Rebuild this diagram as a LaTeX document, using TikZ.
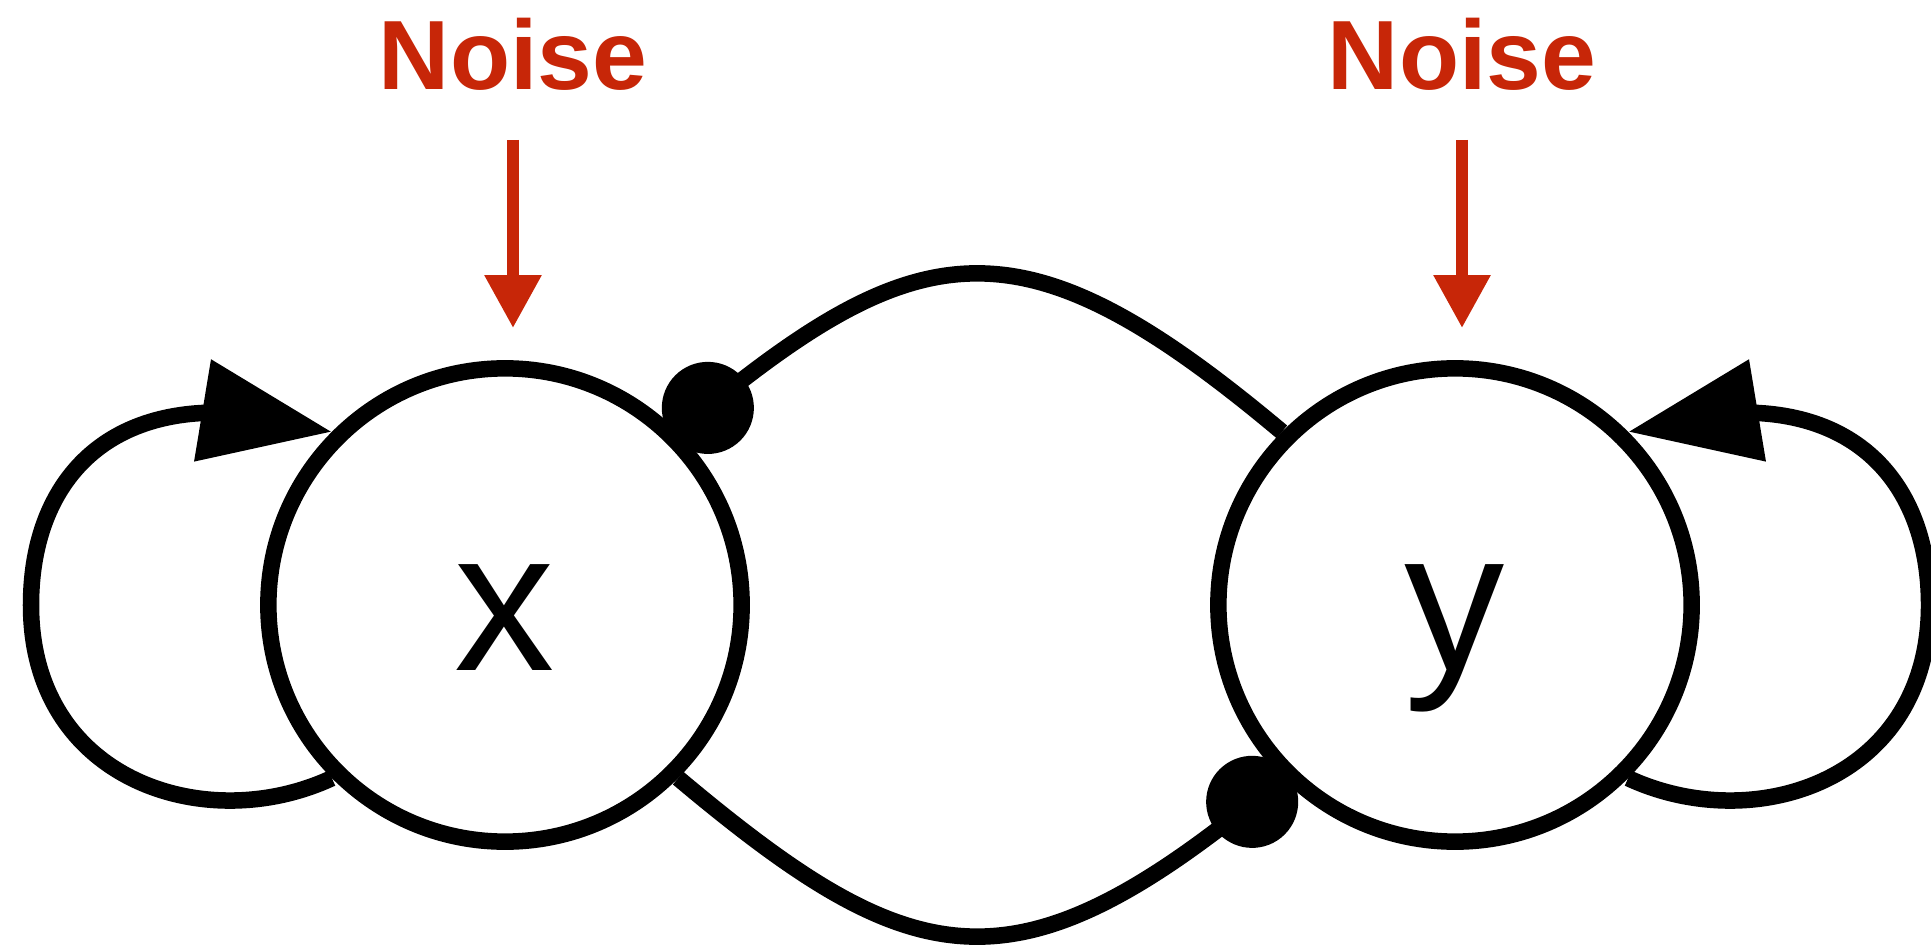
\documentclass[tikz,border=0pt]{standalone}
\usepackage{fontspec}
\setmainfont{Liberation Sans}
\usetikzlibrary{arrows.meta,bending}
\definecolor{noisered}{RGB}{199,38,8}
\begin{document}
\begin{tikzpicture}[x=0.01cm,y=0.01cm,
  state/.style={circle,draw,line width=0.165cm,minimum size=4.73cm,inner sep=0pt,outer sep=0.0825cm,
    font=\fontsize{57}{57}\selectfont,text height=1.3cm,text depth=0pt},
  conn/.style={line width=0.165cm,black},
  loopedge/.style={conn,-{Triangle[flex,length=1.31cm,width=0.99cm]}},
  dotedge/.style={conn,-{Circle[length=0.92cm]},shorten >=-0.08cm},
  noiselbl/.style={text=noisered,font=\bfseries\fontsize{28}{28}\selectfont,inner sep=0pt,outer sep=0pt,anchor=base},
  noisearr/.style={draw=noisered,line width=0.12cm,-{Triangle[length=0.53cm,width=0.54cm]},shorten <=0.49cm,shorten >=0.32cm}]
\useasboundingbox[fill=white] (0,0) rectangle (1931,945);

\node[state] (x) at (505,340) {x};
\node[state] (y) at (1455,340) {y};

\node[noiselbl] (n1) at (513,855) {Noise};
\node[noiselbl] (n2) at (1462,855) {Noise};

\draw[noisearr] (n1.south) -- (n1.south |- x.north);
\draw[noisearr] (n2.south) -- (n2.south |- y.north);

% cross connections
\draw[dotedge] (y.135) .. controls +(140:345) and +(40:312) .. (x.45);
\draw[dotedge] (x.-45) .. controls +(-40:312) and +(220:345) .. (y.225);

% self loops
\coordinate (xl) at (31,340);
\coordinate (yl) at (1929,340);
\draw[loopedge] (x.225) .. controls (205,108) and (31,165) .. (xl)
  .. controls (31,480) and (130,575) .. (x.135);
\draw[loopedge] (y.-45) .. controls (1755,108) and (1929,165) .. (yl)
  .. controls (1929,480) and (1830,575) .. (y.45);
\end{tikzpicture}
\end{document}
